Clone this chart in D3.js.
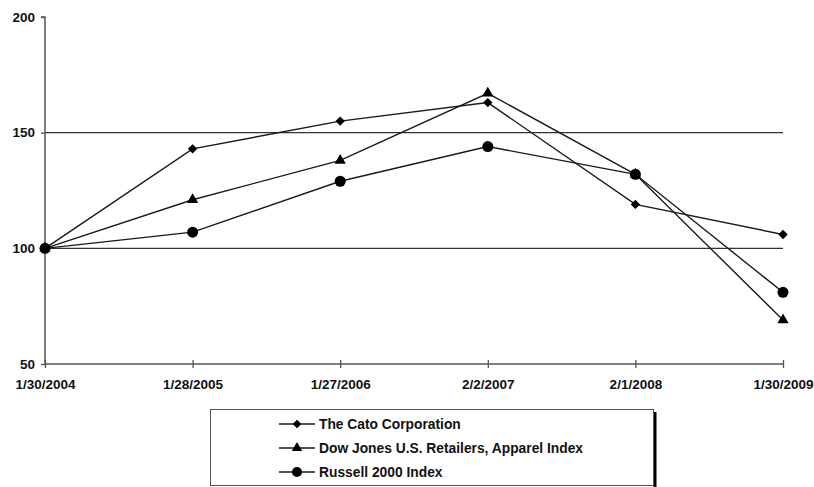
<!DOCTYPE html>
<html>
<head>
<meta charset="utf-8">
<script src="https://cdn.jsdelivr.net/npm/d3@7"></script>
<style>
  body { margin: 0; background: #fff; }
  text { font-family: "Liberation Sans", Arial, sans-serif; font-weight: bold; fill: #111; }
</style>
</head>
<body>
<svg id="chart" width="814" height="487"></svg>
<script>
// dates along the x axis
const dates = ["1/30/2004", "1/28/2005", "1/27/2006", "2/2/2007", "2/1/2008", "1/30/2009"];

// series values
const cato = [100, 143, 155, 163, 119, 106];
const dowJones = [100, 121, 138, 167, 132, 69];
const russell = [100, 107, 129, 144, 132, 81];

const yTicks = [50, 100, 150, 200];
const gridValues = [100, 150];

const series = [
  { name: "The Cato Corporation", values: cato, symbol: d3.symbolSquare, size: 44, rotate: 45 },
  { name: "Dow Jones U.S. Retailers, Apparel Index", values: dowJones, symbol: d3.symbolTriangle, size: 55, rotate: 0 },
  { name: "Russell 2000 Index", values: russell, symbol: d3.symbolCircle, size: 95, rotate: 0 }
];

const svg = d3.select("#chart");
const ink = "#1a1a1a";
const font = "Liberation Sans, Arial, sans-serif";

const x = d3.scalePoint().domain(dates).range([45, 783]);
const y = d3.scaleLinear().domain([50, 200]).range([364, 17]);

// grid lines
svg.append("g").selectAll("line")
  .data(gridValues)
  .enter().append("line")
  .attr("x1", 45).attr("x2", 783)
  .attr("y1", d => y(d)).attr("y2", d => y(d))
  .attr("stroke", "#333").attr("stroke-width", 1.2);

// y axis
const yAxis = svg.append("g")
  .attr("transform", "translate(45,0)")
  .call(d3.axisLeft(y).tickValues(yTicks).tickSize(4).tickPadding(6).tickFormat(d3.format("d")));
yAxis.select(".domain").attr("stroke", "#555").attr("stroke-width", 1.5).attr("d", `M-4,${y(200)}H0V${y(50)}`);
yAxis.selectAll(".tick line").attr("stroke", "#555").attr("stroke-width", 1.3);
yAxis.selectAll("text").style("font-size", "13.5px").style("font-family", font).style("font-weight", "bold").attr("fill", ink);

// x axis
const xAxis = svg.append("g")
  .attr("transform", `translate(0,${y(50)})`)
  .call(d3.axisBottom(x).tickSize(4).tickPadding(11));
xAxis.select(".domain").attr("stroke", "#555").attr("stroke-width", 1.5).attr("d", `M45,0H783`);
xAxis.selectAll(".tick line").attr("stroke", "#555").attr("stroke-width", 1.3).attr("y1", -4);
xAxis.selectAll("text").style("font-size", "13.5px").style("font-family", font).style("font-weight", "bold").attr("fill", ink);

// lines and markers
const line = d3.line().x((d, i) => x(dates[i])).y(d => y(d));

series.forEach(s => {
  svg.append("path")
    .datum(s.values)
    .attr("d", line)
    .attr("fill", "none")
    .attr("stroke", ink)
    .attr("stroke-width", 1.4);
});

series.forEach(s => {
  svg.append("g").selectAll("path")
    .data(s.values)
    .enter().append("path")
    .attr("d", d3.symbol().type(s.symbol).size(s.size))
    .attr("transform", (d, i) => `translate(${x(dates[i])},${y(d)}) rotate(${s.rotate})`)
    .attr("fill", "#000");
});

// legend box
const legend = svg.append("g");
legend.append("line")
  .attr("x1", 655).attr("x2", 655).attr("y1", 412).attr("y2", 487)
  .attr("stroke", "#000").attr("stroke-width", 3);
legend.append("rect")
  .attr("x", 210.5).attr("y", 409.5).attr("width", 443).attr("height", 76)
  .attr("fill", "#fff").attr("stroke", "#555").attr("stroke-width", 1);

const rows = legend.selectAll(".row")
  .data(series)
  .enter().append("g")
  .attr("class", "row")
  .attr("transform", (d, i) => `translate(0,${424 + i * 24})`);

rows.append("line")
  .attr("x1", 279).attr("x2", 315).attr("y1", 0).attr("y2", 0)
  .attr("stroke", ink).attr("stroke-width", 1.4);
rows.append("path")
  .attr("d", d => d3.symbol().type(d.symbol).size(d.size * 0.85)())
  .attr("transform", d => `translate(297,0) rotate(${d.rotate})`)
  .attr("fill", "#000");
rows.append("text")
  .attr("x", 319).attr("y", 0).attr("dy", "0.35em")
  .style("font-size", "13.8px")
  .text(d => d.name);
</script>
</body>
</html>
